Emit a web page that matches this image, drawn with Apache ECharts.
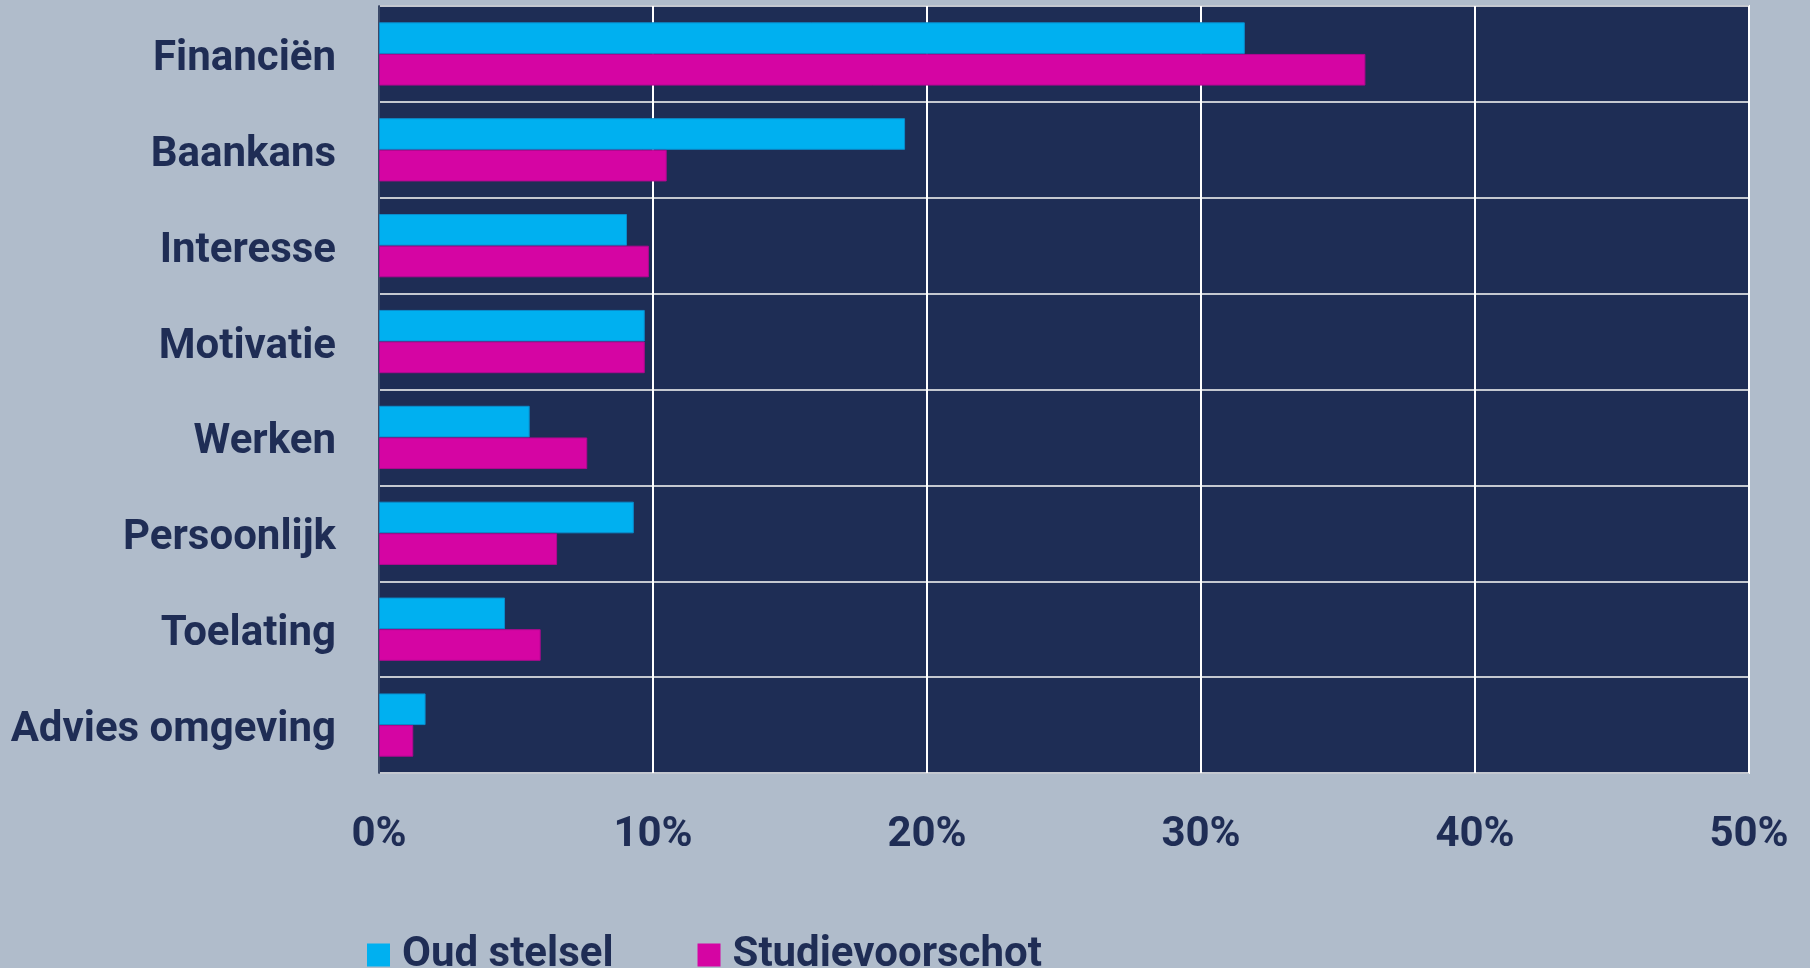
<!DOCTYPE html>
<html>
<head>
<meta charset="utf-8">
<style>
html,body{margin:0;padding:0;background:#b0bccb;}
#c{width:1810px;height:968px;}
</style>
<script src="https://cdn.jsdelivr.net/npm/echarts@6/dist/echarts.min.js"></script>
</head>
<body>
<div id="c"></div>
<script>
const categories = ['Financiën','Baankans','Interesse','Motivatie','Werken','Persoonlijk','Toelating','Advies omgeving'];
const seriesNames = ['Oud stelsel','Studievoorschot'];
const oudStelsel = [31.6, 19.2, 9.05, 9.7, 5.5, 9.3, 4.6, 1.7];
const studievoorschot = [36.0, 10.5, 9.85, 9.7, 7.6, 6.5, 5.9, 1.25];
const xTicks = [0, 10, 20, 30, 40, 50];

const textColor = '#1f2d55';
const font = 'Roboto';
const chart = echarts.init(document.getElementById('c'));
chart.setOption({
  backgroundColor: '#b0bccb',
  animation: false,
  grid: {left: 379, right: 61, top: 6, bottom: 195, show: true,
         backgroundColor: '#1e2d55', borderColor: '#ffffff', borderWidth: 2},
  legend: {
    left: 362, top: 929, itemWidth: 23, itemHeight: 23, itemGap: 84,
    icon: 'rect',
    data: seriesNames,
    itemStyle: {borderWidth: 0},
    textStyle: {color: textColor, fontSize: 42, fontWeight: 'bold', fontFamily: font, padding: [0,0,0,7]}
  },
  xAxis: {
    type: 'value', min: xTicks[0], max: xTicks[xTicks.length-1], interval: 10,
    axisLine: {show: false}, axisTick: {show: false},
    splitLine: {show: true, lineStyle: {color: '#ffffff', width: 2}},
    axisLabel: {color: textColor, fontSize: 42, fontWeight: 'bold', fontFamily: font,
      margin: 62, verticalAlign: 'middle', formatter: v => v + '%'}
  },
  yAxis: {
    type: 'category', inverse: true, data: categories,
    axisLine: {show: true, lineStyle: {color: '#3a4868', width: 2}},
    axisTick: {show: false},
    splitLine: {show: true, lineStyle: {color: '#c4c8d0', width: 2}},
    axisLabel: {color: textColor, fontSize: 42, fontWeight: 'bold', fontFamily: font, margin: 43,
      verticalAlign: 'top', lineHeight: 11}
  },
  series: [
    {name: seriesNames[0], type: 'bar', data: oudStelsel, barGap: '0%', barCategoryGap: '34%',
     itemStyle: {color: '#00b0f0', borderColor: '#0a8ccc', borderWidth: 1}},
    {name: seriesNames[1], type: 'bar', data: studievoorschot, barGap: '0%', barCategoryGap: '34%',
     itemStyle: {color: '#d505a3', borderColor: '#b00890', borderWidth: 1}}
  ]
});
</script>
</body>
</html>
